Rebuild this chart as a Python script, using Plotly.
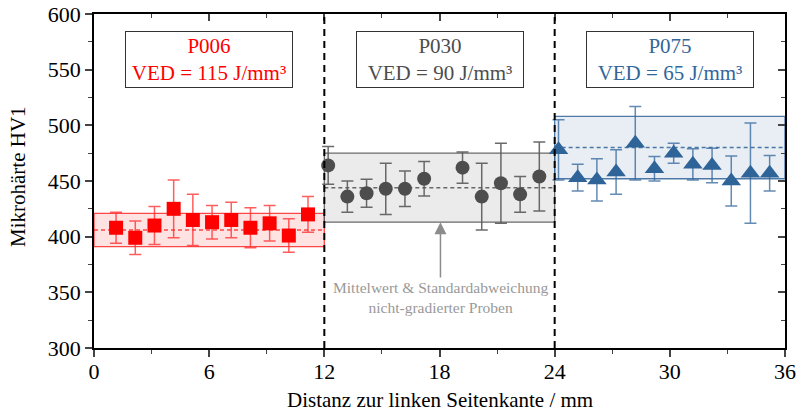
import plotly.graph_objects as go

# ---- data ----
x_p006 = [1.15, 2.15, 3.15, 4.15, 5.15, 6.15, 7.15, 8.15, 9.15, 10.15, 11.15]
y_p006 = [408, 399, 410, 425, 415, 413, 415, 408, 412, 401, 420]
e_p006 = [14, 15, 17, 26, 23, 15, 16, 18, 16, 15, 16]

x_p030 = [12.2, 13.2, 14.2, 15.2, 16.2, 17.2, 19.2, 20.2, 21.2, 22.2, 23.2]
y_p030 = [464, 436, 439, 443, 443, 452, 462, 436, 448, 438, 454]
e_p030 = [17, 14, 12.5, 23, 16, 15.5, 14, 30, 36, 16, 31]

x_p075 = [24.2, 25.2, 26.2, 27.2, 28.2, 29.2, 30.2, 31.2, 32.2, 33.2, 34.2, 35.2]
y_p075 = [478, 453, 451, 458, 484, 461, 475, 465, 464, 450, 457, 457]
e_p075 = [27, 12, 19, 20, 33, 11, 9, 14, 15.5, 22.5, 45, 16]

groups = ["P006", "P030", "P075"]
ved_labels = ["VED = 115 J/mm³", "VED = 90 J/mm³", "VED = 65 J/mm³"]
band_x0 = [0, 12, 24]
band_x1 = [12, 24, 36]
band_mean = [406, 444, 480]
band_std = [15, 31, 28]
label_x = [6, 18, 30]

x_ticks = [0, 6, 12, 18, 24, 30, 36]
y_ticks = [300, 350, 400, 450, 500, 550, 600]

# ---- styles ----
main_col = ["#ff0000", "#4d4d4d", "#2f6499"]
err_col = ["rgba(255,40,40,0.75)", "rgba(90,90,90,0.9)", "rgba(47,100,153,0.75)"]
fill_col = ["rgba(255,0,0,0.11)", "rgba(120,120,120,0.15)", "rgba(47,100,153,0.11)"]
edge_col = ["rgba(255,0,0,0.7)", "rgba(90,90,90,0.9)", "rgba(47,100,153,0.85)"]
text_col = ["#ff0000", "#4d4d4d", "#336699"]
symbols = ["square", "circle", "triangle-up"]
sizes = [14, 14, 17]
FONT = "Liberation Serif, Times New Roman, DejaVu Serif, serif"

fig = go.Figure()

series = [(x_p006, y_p006, e_p006), (x_p030, y_p030, e_p030), (x_p075, y_p075, e_p075)]
for i, (xs, ys, es) in enumerate(series):
    fig.add_trace(go.Scatter(
        x=xs, y=ys, mode="markers", name=groups[i],
        marker=dict(symbol=symbols[i], size=sizes[i], color=main_col[i], line=dict(width=0)),
        error_y=dict(type="data", array=es, visible=True, color=err_col[i], thickness=1.5, width=6),
        showlegend=False,
    ))

# invisible trace for mirrored top/right axes
fig.add_trace(go.Scatter(x=[None], y=[None], xaxis="x2", yaxis="y2", showlegend=False, hoverinfo="skip"))

shapes = []
for i in range(3):
    shapes.append(dict(type="rect", xref="x", yref="y", x0=band_x0[i], x1=band_x1[i],
                       y0=band_mean[i] - band_std[i], y1=band_mean[i] + band_std[i],
                       fillcolor=fill_col[i], line=dict(color=edge_col[i], width=1.3), layer="below"))
    shapes.append(dict(type="line", xref="x", yref="y", x0=band_x0[i], x1=band_x1[i],
                       y0=band_mean[i], y1=band_mean[i],
                       line=dict(color=edge_col[i], width=1.5, dash="4px,3px"), layer="below"))
for xv in [12, 24]:
    shapes.append(dict(type="line", xref="x", yref="y", x0=xv, x1=xv, y0=300, y1=600,
                       line=dict(color="black", width=2, dash="7px,5px")))

annotations = []
for i in range(3):
    annotations.append(dict(
        x=label_x[i], y=559, xref="x", yref="y",
        text=f"{groups[i]}<br>{ved_labels[i]}", showarrow=False,
        font=dict(family=FONT, size=21, color=text_col[i]),
        bgcolor="white", bordercolor="#333333", borderwidth=1, borderpad=3,
        width=160, height=49, align="center",
    ))

annotations.append(dict(
    x=18.05, y=413, xref="x", yref="y", ax=18.05, ay=362, axref="x", ayref="y",
    text="", showarrow=True, arrowhead=2, arrowsize=1.6, arrowwidth=1.5, arrowcolor="#8c8c8c",
))
annotations.append(dict(
    x=18.05, y=345, xref="x", yref="y",
    text="Mittelwert &amp; Standardabweichung<br>nicht-gradierter Proben", showarrow=False,
    font=dict(family=FONT, size=15.5, color="#999999"), align="center",
))
# axis titles
annotations.append(dict(
    x=0.5, y=-0.155, xref="paper", yref="paper", xanchor="center", yanchor="middle",
    text="Distanz zur linken Seitenkante / mm", showarrow=False,
    font=dict(family=FONT, size=21, color="black"),
))
annotations.append(dict(
    x=-0.11, y=0.515, xref="paper", yref="paper", xanchor="center", yanchor="middle",
    text="Mikrohärte HV1", textangle=-90, showarrow=False,
    font=dict(family=FONT, size=21, color="black"),
))

fig.update_layout(
    width=800, height=415,
    margin=dict(l=94, r=15, t=14, b=67),
    plot_bgcolor="white", paper_bgcolor="white",
    font=dict(family=FONT, size=21, color="black"),
    shapes=shapes, annotations=annotations,
    xaxis=dict(range=[0, 36], tickvals=x_ticks, ticks="outside", ticklen=7, tickwidth=1.5,
               showline=True, linecolor="black", linewidth=1.5, showgrid=False, zeroline=False,
               automargin=False, ticklabelstandoff=-4,
               minor=dict(ticks="outside", ticklen=4, dtick=3, tick0=0, tickwidth=1.2),
               tickfont=dict(family=FONT, size=22)),
    yaxis=dict(range=[300, 600], tickvals=y_ticks, ticks="outside", ticklen=7, tickwidth=1.5,
               showline=True, linecolor="black", linewidth=1.5, showgrid=False, zeroline=False,
               automargin=False,
               minor=dict(ticks="outside", ticklen=4, dtick=25, tick0=300, tickwidth=1.2),
               tickfont=dict(family=FONT, size=22)),
    xaxis2=dict(range=[0, 36], overlaying="x", side="top", anchor="y2", tickvals=x_ticks,
                ticks="inside", ticklen=7, tickwidth=1.5, showticklabels=False, automargin=False,
                showline=True, linecolor="black", linewidth=1.5, showgrid=False, zeroline=False,
                minor=dict(ticks="inside", ticklen=4, dtick=3, tick0=0, tickwidth=1.2)),
    yaxis2=dict(range=[300, 600], overlaying="y", side="right", anchor="x2", tickvals=y_ticks,
                ticks="inside", ticklen=7, tickwidth=1.5, showticklabels=False, automargin=False,
                showline=True, linecolor="black", linewidth=1.5, showgrid=False, zeroline=False,
                minor=dict(ticks="inside", ticklen=4, dtick=25, tick0=300, tickwidth=1.2)),
)

fig.write_html("out.html")
